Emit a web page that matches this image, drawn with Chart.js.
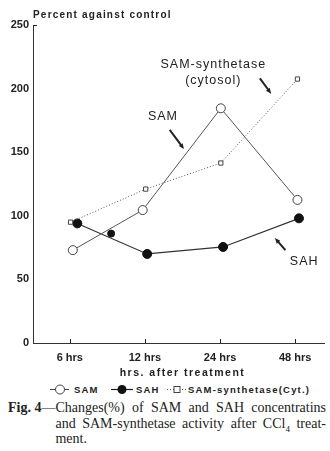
<!DOCTYPE html>
<html>
<head>
<meta charset="utf-8">
<script src="https://cdn.jsdelivr.net/npm/chart.js@4/dist/chart.umd.min.js"></script>
<style>
  body { margin: 0; background: #fff; width: 330px; height: 451px; overflow: hidden; position: relative; }
  #c { position: absolute; left: 0; top: 0; }
  #legend { position: absolute; left: 0; top: 384px; width: 330px; font: bold 9.5px "Liberation Sans", Arial, sans-serif; color: #222; letter-spacing: 1.2px; }
  #legend span { position: absolute; top: 0; white-space: nowrap; }
  #legend svg { position: absolute; top: -1px; }
  #caption { position: absolute; left: 8px; top: 400px; width: 318px; font: 14px "Liberation Serif", "DejaVu Serif", serif; color: #222; line-height: 15.5px; }
  #caption .row { display: flex; }
  #caption .lead { white-space: nowrap; }
  #caption .body { text-align: justify; text-align-last: left; }
  #caption sub { font-size: 9px; line-height: 0; }
</style>
</head>
<body>
<canvas id="c" width="330" height="382"></canvas>
<div id="legend">
  <svg style="left:50px" width="19" height="13"><line x1="0" y1="6.5" x2="19" y2="6.5" stroke="#444" stroke-width="1"/><circle cx="10" cy="6.5" r="4.5" fill="#fff" stroke="#444"/></svg>
  <span style="left:74px">SAM</span>
  <svg style="left:111px" width="22" height="13"><line x1="0" y1="6.5" x2="22" y2="6.5" stroke="#222" stroke-width="1.2"/><circle cx="11" cy="6.5" r="4.5" fill="#111"/></svg>
  <span style="left:136px">SAH</span>
  <svg style="left:167px" width="19" height="13"><line x1="0" y1="6.5" x2="19" y2="6.5" stroke="#555" stroke-dasharray="1,2"/><rect x="7" y="3.5" width="6" height="6" fill="#fff" stroke="#444"/></svg>
  <span style="left:188px">SAM-synthetase(Cyt.)</span>
</div>
<div id="caption">
  <div class="row"><span class="lead"><b>Fig. 4</b>—</span><span class="body">Changes(%) of SAM and SAH concentratins and SAM-synthetase activity after CCl<sub>4</sub> treat-ment.</span></div>
</div>
<script>
// 가로축 구간 (0,1,2,3 = 6, 12, 24, 48 hrs)
var tickLabels = ['6 hrs', '12 hrs', '24 hrs', '48 hrs'];
var yTicks = [0, 50, 100, 150, 200, 250];

// 그림에서 읽은 값 (x는 구간 위치, y는 대조군 대비 %)
var samX = [0.04, 0.97, 2.01, 3.03];
var samY = [73, 104.5, 184.5, 112.5];
var sahX = [0.1, 1.03, 2.04, 3.05];
var sahY = [94, 70, 75.5, 98];
var synX = [0.01, 1.01, 2.01, 3.03];
var synY = [95, 121, 141.5, 207.5];
// 선이 겹치는 곳에 찍힌 검은 점 하나
var dotX = [0.55];
var dotY = [86];

function pts(xs, ys) {
  return xs.map(function (x, i) { return { x: x, y: ys[i] }; });
}

var extras = {
  id: 'extras',
  afterDraw: function (chart) {
    var ctx = chart.ctx, xs = chart.scales.x, ys = chart.scales.y, a = chart.chartArea;
    var px = function (v) { return xs.getPixelForValue(v); };
    var py = function (v) { return ys.getPixelForValue(v); };
    ctx.save();
    ctx.fillStyle = '#222';
    ctx.strokeStyle = '#222';
    ctx.lineWidth = 1;
    // 세로축 제목
    ctx.font = 'bold 10px "Liberation Sans", Arial, sans-serif';
    ctx.letterSpacing = '1.2px';
    ctx.textAlign = 'left';
    ctx.textBaseline = 'middle';
    ctx.fillText('Percent against control', a.left, 15);
    // 가로축 제목
    ctx.font = 'bold 10.5px "Liberation Sans", Arial, sans-serif';
    ctx.letterSpacing = '1.5px';
    ctx.textAlign = 'center';
    ctx.fillText('hrs. after treatment', px(1.5), 373);
    // 눈금 (안쪽)
    ctx.beginPath();
    ctx.moveTo(a.left, py(250) + 0.5); ctx.lineTo(a.left + 4, py(250) + 0.5);
    tickLabels.forEach(function (t, i) {
      var x = Math.round(px(i)) + 0.5;
      ctx.moveTo(x, a.bottom); ctx.lineTo(x, a.bottom - 4);
    });
    ctx.stroke();
    // 주석 글자
    ctx.font = '12.5px "Liberation Sans", Arial, sans-serif';
    ctx.letterSpacing = '1px';
    ctx.fillText('SAM-synthetase', px(1.91), py(219));
    ctx.fillText('(cytosol)', px(1.91), py(206));
    ctx.fillText('SAM', px(1.24), py(178));
    ctx.fillText('SAH', px(3.12), py(64));
    ctx.letterSpacing = '0px';
    // 화살표
    function arrow(x1, y1, x2, y2) {
      var X1 = px(x1), Y1 = py(y1), X2 = px(x2), Y2 = py(y2);
      var ang = Math.atan2(Y2 - Y1, X2 - X1);
      ctx.lineWidth = 2;
      ctx.beginPath(); ctx.moveTo(X1, Y1); ctx.lineTo(X2 - 3 * Math.cos(ang), Y2 - 3 * Math.sin(ang)); ctx.stroke();
      ctx.beginPath();
      ctx.moveTo(X2, Y2);
      ctx.lineTo(X2 - 6 * Math.cos(ang - 0.4), Y2 - 6 * Math.sin(ang - 0.4));
      ctx.lineTo(X2 - 6 * Math.cos(ang + 0.4), Y2 - 6 * Math.sin(ang + 0.4));
      ctx.closePath(); ctx.fill();
    }
    arrow(2.53, 208, 2.68, 196);
    arrow(1.33, 167.5, 1.52, 152.5);
    arrow(2.87, 73, 2.73, 82.5);
    ctx.restore();
  }
};

var ctx = document.getElementById('c').getContext('2d');
var myChart = new Chart(ctx, {
  type: 'scatter',
  data: {
    datasets: [
      {
        label: 'SAM-synthetase(Cyt.)', data: pts(synX, synY), showLine: true,
        borderColor: '#555', borderWidth: 1, borderDash: [1, 2],
        pointStyle: 'rect', pointRadius: 3, pointBackgroundColor: '#fff', pointBorderColor: '#444', pointBorderWidth: 1
      },
      {
        label: 'SAM', data: pts(samX, samY), showLine: true,
        borderColor: '#555', borderWidth: 1,
        pointStyle: 'circle', pointRadius: 4.5, pointBackgroundColor: '#fff', pointBorderColor: '#444', pointBorderWidth: 1
      },
      {
        label: 'SAH', data: pts(sahX, sahY), showLine: true,
        borderColor: '#333', borderWidth: 1.2,
        pointStyle: 'circle', pointRadius: 4.5, pointBackgroundColor: '#111', pointBorderColor: '#111', pointBorderWidth: 1
      },
      {
        label: 'dot', data: pts(dotX, dotY), showLine: false,
        pointRadius: 3.5, pointBackgroundColor: '#111', pointBorderColor: '#111'
      }
    ]
  },
  options: {
    responsive: false,
    animation: false,
    layout: { padding: { top: 25, right: 3, left: 0, bottom: 0 } },
    plugins: { legend: { display: false }, tooltip: { enabled: false } },
    scales: {
      x: {
        type: 'linear', min: -0.49, max: 3.39,
        afterBuildTicks: function (s) { s.ticks = tickLabels.map(function (t, i) { return { value: i }; }); },
        afterFit: function (s) { s.height = 39; },
        grid: { display: false, drawTicks: false },
        border: { display: true, color: '#333', width: 1 },
        ticks: {
          padding: 8, color: '#222', font: { family: '"Liberation Sans", Arial, sans-serif', size: 11, weight: 'bold' },
          callback: function (v) { return tickLabels[v]; }
        }
      },
      y: {
        min: 0, max: 250,
        afterBuildTicks: function (s) { s.ticks = yTicks.map(function (v) { return { value: v }; }); },
        afterFit: function (s) { s.width = 33; },
        grid: { display: false, drawTicks: false },
        border: { display: true, color: '#333', width: 1 },
        ticks: { padding: 4, color: '#222', font: { family: '"Liberation Sans", Arial, sans-serif', size: 11, weight: 'bold' } }
      }
    }
  },
  plugins: [extras]
});
</script>
</body>
</html>
